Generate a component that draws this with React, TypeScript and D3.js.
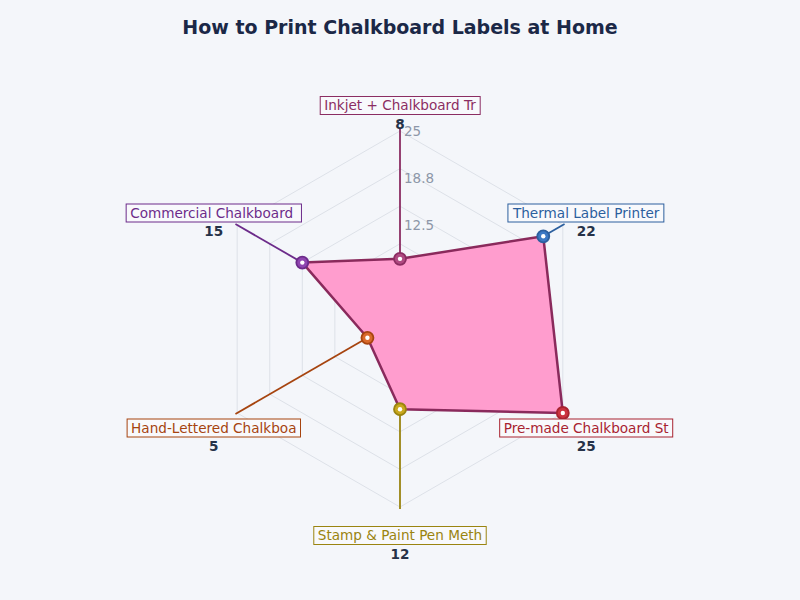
import * as d3 from 'd3'
import { useEffect, useRef } from 'react'

const title = 'How to Print Chalkboard Labels at Home'
const categories = [
    'Inkjet + Chalkboard Transfer',
    'Thermal Label Printer',
    'Pre-made Chalkboard Stickers',
    'Stamp & Paint Pen Method',
    'Hand-Lettered Chalkboard',
    'Commercial Chalkboard Labels',
]
const values = [8, 22, 25, 12, 5, 15]
const lineColors = ['#8b2d62', '#2c5f9e', '#a82330', '#9a8410', '#a6440f', '#6c2b8a']
const pointColors = ['#b04a82', '#3b78c4', '#cc3340', '#c9a81e', '#d9692a', '#8f45b0']
const gridLevels = [5, 10, 15, 20, 25]
const tickValues = [12.5, 18.75, 25]
const maxValue = 25

const width = 800
const height = 600
const font = '"DejaVu Sans", Verdana, sans-serif'

const drawRadar = (node: SVGSVGElement) => {
    const svg = d3.select(node)
    svg.selectAll('*').remove()

    const cx = 400
    const cy = 319
    const r = d3.scaleLinear().domain([0, maxValue]).range([0, 188])
    const angle = d3.scaleLinear().domain([0, categories.length]).range([0, Math.PI * 2])
    const px = (i: number, rad: number) => cx + rad * Math.sin(angle(i))
    const py = (i: number, rad: number) => cy - rad * Math.cos(angle(i))

    svg.append('rect')
        .attr('width', width)
        .attr('height', height)
        .attr('fill', '#f4f6fa')

    svg.append('text')
        .attr('x', width / 2)
        .attr('y', 34)
        .attr('text-anchor', 'middle')
        .attr('font-family', font)
        .attr('font-size', 19)
        .attr('font-weight', 'bold')
        .attr('fill', '#1b2847')
        .text(title)

    // Grid rings
    gridLevels.forEach(level => {
        const pts = categories.map((_, i) => [px(i, r(level)), py(i, r(level))] as [number, number])
        svg.append('polygon')
            .attr('points', pts.map(p => p.join(',')).join(' '))
            .attr('fill', 'none')
            .attr('stroke', '#dde1e8')
            .attr('stroke-width', 1)
    })

    // Data area
    const line = d3.lineRadial<number>()
        .angle((d, i) => angle(i))
        .radius(d => r(d))
        .curve(d3.curveLinearClosed)

    svg.append('path')
        .datum(values)
        .attr('transform', `translate(${cx},${cy})`)
        .attr('d', line)
        .attr('fill', '#ff9dce')
        .attr('stroke', '#8a2a5c')
        .attr('stroke-width', 2.5)
        .attr('stroke-linejoin', 'round')

    // Tick labels
    tickValues.forEach(t => {
        svg.append('text')
            .attr('x', cx + 4)
            .attr('y', cy - r(t))
            .attr('dy', '0.35em')
            .attr('font-family', font)
            .attr('font-size', 13.5)
            .attr('fill', '#8d96a8')
            .text(d3.format('.3~')(t))
    })

    // Leader lines
    const leaderR = 190
    values.forEach((v, i) => {
        svg.append('line')
            .attr('x1', px(i, r(v)))
            .attr('y1', py(i, r(v)))
            .attr('x2', px(i, leaderR))
            .attr('y2', py(i, leaderR))
            .attr('stroke', lineColors[i])
            .attr('stroke-width', 1.8)
    })

    // Points
    values.forEach((v, i) => {
        svg.append('circle')
            .attr('cx', px(i, r(v)))
            .attr('cy', py(i, r(v)))
            .attr('r', 6)
            .attr('fill', pointColors[i])
            .attr('stroke', lineColors[i])
            .attr('stroke-width', 1.8)
        svg.append('circle')
            .attr('cx', px(i, r(v)))
            .attr('cy', py(i, r(v)))
            .attr('r', 2.2)
            .attr('fill', '#ffffff')
    })

    // Labels
    const labelR = 215
    categories.forEach((c, i) => {
        const lx = px(i, labelR)
        const ly = py(i, labelR) + 1.5
        const g = svg.append('g')
        const box = g.append('rect')
        const txt = g.append('text')
            .attr('x', lx)
            .attr('y', ly)
            .attr('dy', '0.35em')
            .attr('text-anchor', 'middle')
            .attr('font-family', font)
            .attr('font-size', 13.6)
            .attr('fill', lineColors[i])
            .style('white-space', 'pre')
            .text(c.slice(0, 22))
        const bb = (txt.node() as SVGTextElement).getBBox()
        box.attr('x', bb.x - 4)
            .attr('y', ly - 9)
            .attr('width', bb.width + 8)
            .attr('height', 18)
            .attr('fill', '#f8f9fc')
            .attr('stroke', lineColors[i])
            .attr('stroke-width', 1)

        svg.append('text')
            .attr('x', lx)
            .attr('y', ly + 18.5)
            .attr('dy', '0.35em')
            .attr('text-anchor', 'middle')
            .attr('font-family', font)
            .attr('font-size', 13.6)
            .attr('font-weight', 'bold')
            .attr('fill', '#263248')
            .text(values[i])
    })
}

const App = () => {
    const ref = useRef<SVGSVGElement>(null)

    useEffect(() => {
        if (ref.current) drawRadar(ref.current)
    }, [])

    return (
        <div style={{ position: 'fixed', left: 0, top: 0 }}>
            <svg ref={ref} width={width} height={height}></svg>
        </div>
    )
}

export default App
